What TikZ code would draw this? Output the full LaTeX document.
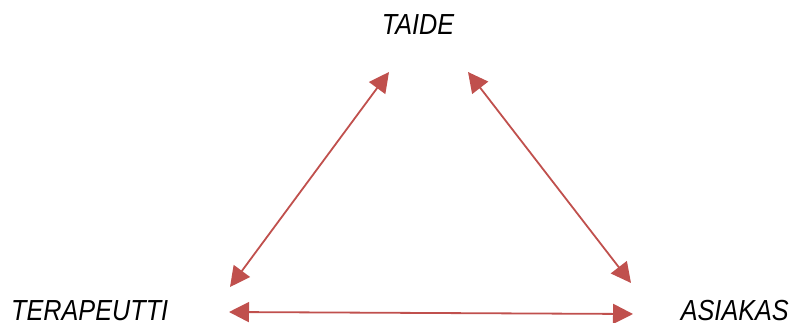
\documentclass[tikz,border=0pt]{standalone}
\usepackage{fontspec}
\newfontfamily\labfont[FakeStretch=0.87]{Liberation Sans}
\usetikzlibrary{arrows.meta}
\definecolor{arrred}{HTML}{C0504D}
\begin{document}
\begin{tikzpicture}[x=1pt,y=-1pt,
  lab/.style={font=\labfont\itshape\fontsize{29}{32}\selectfont, inner sep=0pt, text depth=0pt, anchor=base},
  link/.style={draw=arrred, line width=1.8pt, {Triangle[length=20pt,width=20pt,fill=arrred]}-{Triangle[length=20pt,width=20pt,fill=arrred]}}]
\useasboundingbox (0,0) rectangle (792,323);
\node[lab] (taide) at (418,35) {TAIDE};
\node[lab, anchor=base west] (tera) at (11,320.5) {TERAPEUTTI};
\node[lab, anchor=base east] (asia) at (789,320.5) {ASIAKAS};
\coordinate (tl) at (389,72);
\coordinate (tr) at (468,72);
\coordinate (bl) at (230,287);
\coordinate (br) at (631,283);
\coordinate (hl) at (229,312);
\coordinate (hr) at (633,314);
\draw[link] (tl) -- (bl);
\draw[link] (tr) -- (br);
\draw[link] (hl) -- (hr);
\end{tikzpicture}
\end{document}
